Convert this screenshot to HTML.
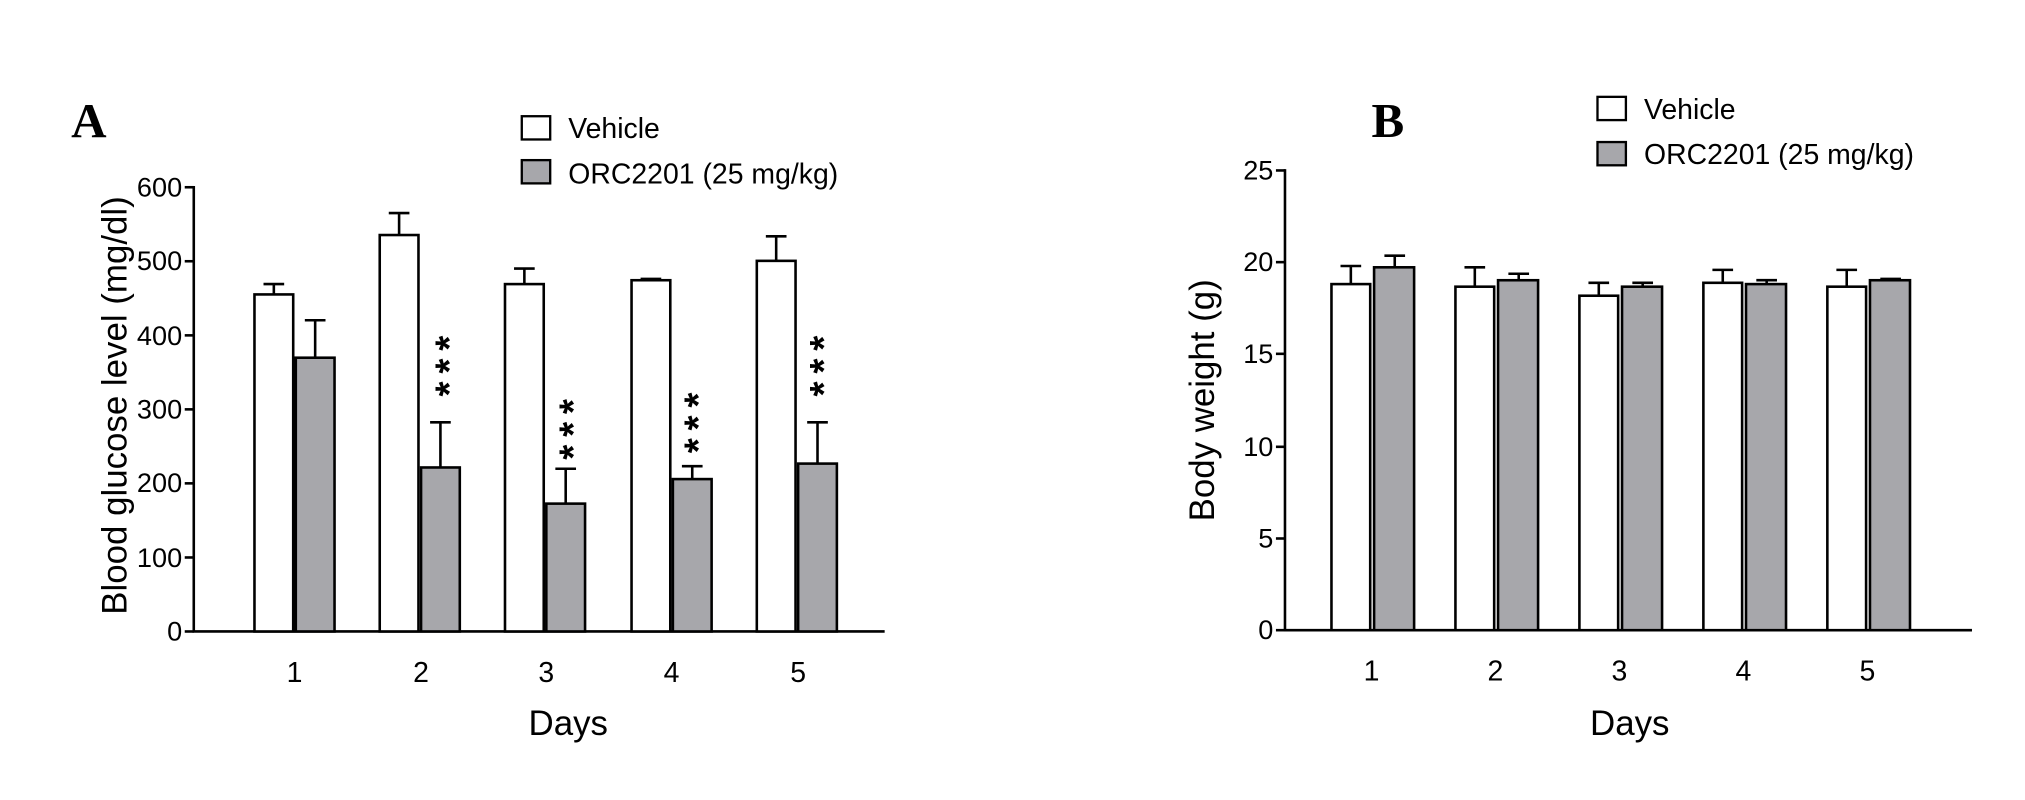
<!DOCTYPE html>
<html><head><meta charset="utf-8"><style>html,body{margin:0;padding:0;background:#fff}svg{display:block}</style></head>
<body>
<svg width="2025" height="800" viewBox="0 0 1568 619.5" xmlns="http://www.w3.org/2000/svg" font-family="Liberation Sans, sans-serif">
<rect width="1568" height="620" fill="#fff"/>
<g stroke="#000" stroke-width="2" fill="none">
<line x1="150" y1="144" x2="150" y2="489"/>
<line x1="149" y1="489" x2="685" y2="489"/>
<line x1="143" y1="145" x2="150" y2="145"/><line x1="143" y1="202.3" x2="150" y2="202.3"/><line x1="143" y1="259.7" x2="150" y2="259.7"/><line x1="143" y1="317" x2="150" y2="317"/><line x1="143" y1="374.3" x2="150" y2="374.3"/><line x1="143" y1="431.7" x2="150" y2="431.7"/><line x1="143" y1="489" x2="150" y2="489"/>
<line x1="995" y1="131" x2="995" y2="488"/>
<line x1="994" y1="488" x2="1527" y2="488"/>
<line x1="988" y1="132" x2="995" y2="132"/><line x1="988" y1="203" x2="995" y2="203"/><line x1="988" y1="274" x2="995" y2="274"/><line x1="988" y1="346" x2="995" y2="346"/><line x1="988" y1="417" x2="995" y2="417"/><line x1="988" y1="488" x2="995" y2="488"/>
</g>
<g font-size="21" text-anchor="end">
<text x="141" y="152">600</text><text x="141" y="209">500</text><text x="141" y="267">400</text><text x="141" y="324">300</text><text x="141" y="381">200</text><text x="141" y="439">100</text><text x="141" y="496">0</text>
<text x="986" y="139">25</text><text x="986" y="210">20</text><text x="986" y="281">15</text><text x="986" y="353">10</text><text x="986" y="424">5</text><text x="986" y="495">0</text>
</g>
<g font-size="22" text-anchor="middle">
<text x="228" y="528">1</text><text x="326" y="528">2</text><text x="423" y="528">3</text><text x="520" y="528">4</text><text x="618" y="528">5</text>
<text x="1062" y="527">1</text><text x="1158" y="527">2</text><text x="1254" y="527">3</text><text x="1350" y="527">4</text><text x="1446" y="527">5</text>
</g>
<text x="440" y="569" font-size="27" text-anchor="middle">Days</text>
<text x="1262" y="569" font-size="27" text-anchor="middle">Days</text>
<text transform="translate(98,314) rotate(-90)" font-size="27" text-anchor="middle">Blood glucose level (mg/dl)</text>
<text transform="translate(940,310) rotate(-90)" font-size="27" text-anchor="middle">Body weight (g)</text>
<text x="55" y="106" font-family="Liberation Serif, serif" font-weight="bold" font-size="38">A</text>
<text x="1062" y="106" font-family="Liberation Serif, serif" font-weight="bold" font-size="38">B</text>
<g stroke="#000" stroke-width="1.8">
<rect x="404" y="90" width="22" height="18" fill="#fff"/><rect x="404" y="124" width="22" height="18" fill="#a7a7ab"/>
<rect x="1237" y="75" width="22" height="18" fill="#fff"/><rect x="1237" y="110" width="22" height="18" fill="#a7a7ab"/>
</g>
<g font-size="22">
<text x="440" y="107">Vehicle</text><text x="440" y="142">ORC2201 (25 mg/kg)</text>
<text x="1273" y="92">Vehicle</text><text x="1273" y="127">ORC2201 (25 mg/kg)</text>
</g>
<g stroke="#000" stroke-width="2">
<line x1="212" y1="228" x2="212" y2="220"/><line x1="204" y1="220" x2="220" y2="220"/>
<line x1="244" y1="277" x2="244" y2="248"/><line x1="236" y1="248" x2="252" y2="248"/>
<line x1="309" y1="182" x2="309" y2="165"/><line x1="301" y1="165" x2="317" y2="165"/>
<line x1="341" y1="362" x2="341" y2="327"/><line x1="333" y1="327" x2="349" y2="327"/>
<line x1="406" y1="220" x2="406" y2="208"/><line x1="398" y1="208" x2="414" y2="208"/>
<line x1="438" y1="390" x2="438" y2="363"/><line x1="430" y1="363" x2="446" y2="363"/>
<line x1="504" y1="217" x2="504" y2="216"/><line x1="496" y1="216" x2="512" y2="216"/>
<line x1="536" y1="371" x2="536" y2="361"/><line x1="528" y1="361" x2="544" y2="361"/>
<line x1="601" y1="202" x2="601" y2="183"/><line x1="593" y1="183" x2="609" y2="183"/>
<line x1="633" y1="359" x2="633" y2="327"/><line x1="625" y1="327" x2="641" y2="327"/>
<rect x="197" y="228" width="30" height="261" fill="#fff"/>
<rect x="229" y="277" width="30" height="212" fill="#a7a7ab"/>
<rect x="294" y="182" width="30" height="307" fill="#fff"/>
<rect x="326" y="362" width="30" height="127" fill="#a7a7ab"/>
<rect x="391" y="220" width="30" height="269" fill="#fff"/>
<rect x="423" y="390" width="30" height="99" fill="#a7a7ab"/>
<rect x="489" y="217" width="30" height="272" fill="#fff"/>
<rect x="521" y="371" width="30" height="118" fill="#a7a7ab"/>
<rect x="586" y="202" width="30" height="287" fill="#fff"/>
<rect x="618" y="359" width="30" height="130" fill="#a7a7ab"/>
</g>
<g font-size="30" font-weight="bold" letter-spacing="6">
<text transform="translate(358,307) rotate(-90)">***</text>
<text transform="translate(454,356) rotate(-90)">***</text>
<text transform="translate(551,351) rotate(-90)">***</text>
<text transform="translate(648,307) rotate(-90)">***</text>
</g>
<g stroke="#000" stroke-width="2">
<line x1="1046" y1="220" x2="1046" y2="206"/><line x1="1038" y1="206" x2="1054" y2="206"/>
<line x1="1080" y1="207" x2="1080" y2="198"/><line x1="1072" y1="198" x2="1088" y2="198"/>
<line x1="1142" y1="222" x2="1142" y2="207"/><line x1="1134" y1="207" x2="1150" y2="207"/>
<line x1="1176" y1="217" x2="1176" y2="212"/><line x1="1168" y1="212" x2="1184" y2="212"/>
<line x1="1238" y1="229" x2="1238" y2="219"/><line x1="1230" y1="219" x2="1246" y2="219"/>
<line x1="1272" y1="222" x2="1272" y2="219"/><line x1="1264" y1="219" x2="1280" y2="219"/>
<line x1="1334" y1="219" x2="1334" y2="209"/><line x1="1326" y1="209" x2="1342" y2="209"/>
<line x1="1368" y1="220" x2="1368" y2="217"/><line x1="1360" y1="217" x2="1376" y2="217"/>
<line x1="1430" y1="222" x2="1430" y2="209"/><line x1="1422" y1="209" x2="1438" y2="209"/>
<line x1="1464" y1="217" x2="1464" y2="216"/><line x1="1456" y1="216" x2="1472" y2="216"/>
<rect x="1031" y="220" width="30" height="268" fill="#fff"/>
<rect x="1064" y="207" width="31" height="281" fill="#a7a7ab"/>
<rect x="1127" y="222" width="30" height="266" fill="#fff"/>
<rect x="1160" y="217" width="31" height="271" fill="#a7a7ab"/>
<rect x="1223" y="229" width="30" height="259" fill="#fff"/>
<rect x="1256" y="222" width="31" height="266" fill="#a7a7ab"/>
<rect x="1319" y="219" width="30" height="269" fill="#fff"/>
<rect x="1352" y="220" width="31" height="268" fill="#a7a7ab"/>
<rect x="1415" y="222" width="30" height="266" fill="#fff"/>
<rect x="1448" y="217" width="31" height="271" fill="#a7a7ab"/>
</g>
</svg>
</body></html>
